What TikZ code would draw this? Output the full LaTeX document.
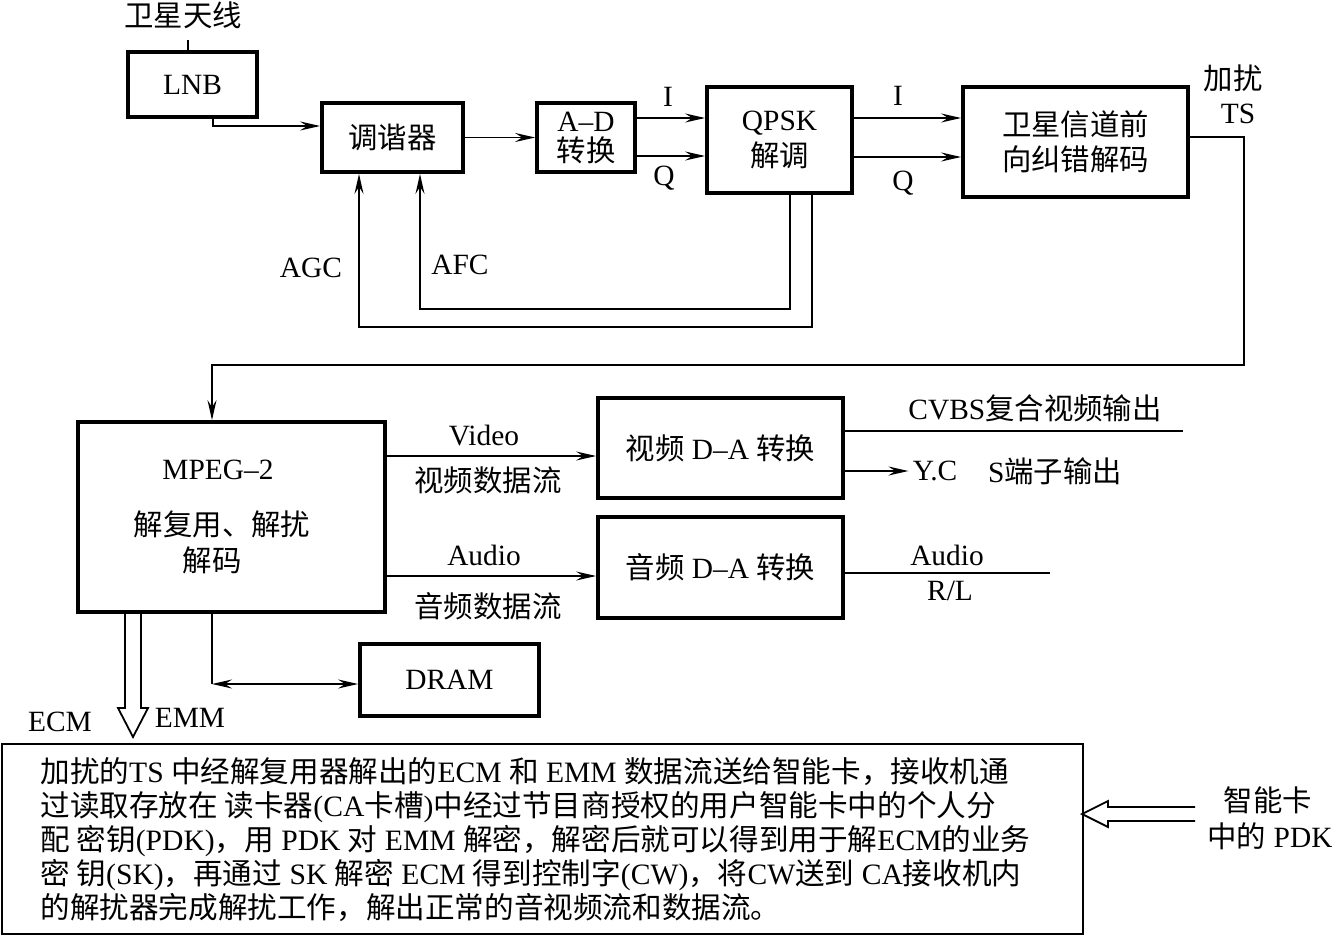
\documentclass[tikz,border=0pt]{standalone}
\usepackage{fontspec}
\setmainfont{Liberation Serif}
\newfontfamily\cjk{Noto Sans CJK SC}
\usetikzlibrary{arrows.meta}
\newcommand\zh[1]{{\cjk #1}}
\begin{document}
\begin{tikzpicture}[x=0.5pt,y=-0.5pt,
  font=\fontsize{14.7}{17}\selectfont,
  box/.style={draw,line width=1.9pt,inner sep=0pt},
  conn/.style={line width=0.8pt},
  arr/.style={conn,-{Stealth[length=10pt,width=4.5pt,inset=3.5pt]}},
  darr/.style={conn,{Stealth[length=10pt,width=4.5pt,inset=3.5pt]}-{Stealth[length=10pt,width=4.5pt,inset=3.5pt]}},
  lbl/.style={inner sep=1pt},
  hollow/.style={line width=0.9pt,line join=miter}]
\useasboundingbox (0,0) rectangle (1332,936);

% boxes
\node[box,minimum width=64.5pt,minimum height=32.5pt] (lnb) at (192.5,84.5) {LNB};
\node[box,minimum width=70.5pt,minimum height=34.5pt] (tuner) at (392.5,137.5) {\zh{调谐器}};
\node[box,minimum width=49pt,minimum height=34.5pt,align=center,font=\fontsize{14.7}{15}\selectfont] (ad) at (586,137.5) {A--D\\\zh{转换}};
\node[box,minimum width=72.5pt,minimum height=53pt,align=center,font=\fontsize{14.7}{18}\selectfont] (qpsk) at (779.5,140) {QPSK\\\zh{解调}};
\node[box,minimum width=112.5pt,minimum height=55pt,align=center,font=\fontsize{14.7}{17.5}\selectfont] (fec) at (1075.5,142) {\zh{卫星信道前}\\\zh{向纠错解码}};
\node[box,minimum width=153.5pt,minimum height=95pt] (mpeg) at (231.5,517) {};
\node[lbl] (mpegt1) at (218,470) {MPEG--2};
\node[lbl] (mpegt2) at (222,524) {\zh{解复用、解扰}};
\node[lbl] (mpegt3) at (212,560) {\zh{解码}};
\node[box,minimum width=122.5pt,minimum height=50pt] (vda) at (720.5,448) {\zh{视频} D--A \zh{转换}};
\node[box,minimum width=122.5pt,minimum height=50.5pt] (ada) at (720.5,567.5) {\zh{音频} D--A \zh{转换}};
\node[box,minimum width=89.5pt,minimum height=36pt] (dram) at (449.5,680) {DRAM};
\node[draw,line width=1pt,minimum width=540.5pt,minimum height=95pt,inner sep=0pt] (info) at (542.5,839) {};
\node[anchor=north west,align=left,font=\fontsize{14.8}{17}\selectfont,inner sep=0pt] (para) at (40,757) {%
\zh{加扰的}TS \zh{中经解复用器解出的}ECM \zh{和} EMM \zh{数据流送给智能卡，接收机通}\\
\zh{过读取存放在 读卡器}(CA\zh{卡槽})\zh{中经过节目商授权的用户智能卡中的个人分}\\
\zh{配 密钥}(PDK)\zh{，用} PDK \zh{对} EMM \zh{解密，解密后就可以得到用于解}ECM\zh{的业务}\\
\zh{密 钥}(SK)\zh{，再通过} SK \zh{解密} ECM \zh{得到控制字}(CW)\zh{，将}CW\zh{送到} CA\zh{接收机内}\\
\zh{的解扰器完成解扰工作，解出正常的音视频流和数据流。}};

% labels
\node[lbl] (antl) at (183,15) {\zh{卫星天线}};
\node[lbl] (li1) at (668,97) {I};
\node[lbl] (lq1) at (664,178) {Q};
\node[lbl] (li2) at (898,96) {I};
\node[lbl] (lq2) at (903,183) {Q};
\node[lbl] (lagc) at (311,268) {AGC};
\node[lbl] (lafc) at (460,265) {AFC};
\node[lbl] (ljr) at (1233,78) {\zh{加扰}};
\node[lbl] (lts) at (1238,114) {TS};
\node[lbl] (lvid) at (484,436) {Video};
\node[lbl] (lvids) at (488,480) {\zh{视频数据流}};
\node[lbl] (laud) at (484,555) {Audio};
\node[lbl] (lauds) at (488,606) {\zh{音频数据流}};
\node[lbl] (lcvbs) at (1035,408) {CVBS\zh{复合视频输出}};
\node[lbl,inner sep=2pt] (lyc) at (935,471) {Y.C};
\node[lbl] (lsout) at (1055,471) {S\zh{端子输出}};
\node[lbl] (laud2) at (947,555) {Audio};
\node[lbl] (lrl) at (950,591) {R/L};
\node[lbl] (lecm) at (60,722) {ECM};
\node[lbl] (lemm) at (190,718) {EMM};
\node[lbl] (lpdk1) at (1268,800) {\zh{智能卡}};
\node[lbl] (lpdk2) at (1270,836) {\zh{中的} PDK};

% coordinates
\coordinate (ant) at (188,40);
\coordinate (tsc) at (1244,365);
\coordinate (afc) at (420,309);
\coordinate (agc) at (359,327);
\coordinate (cvbsend) at (1183,431);
\coordinate (audend) at (1050,573);
\coordinate (dc) at (212,684);

% connectors
\draw[conn] (ant) -- (ant |- lnb.north);
\draw[arr] ([xshift=10.25pt]lnb.south) |- ([yshift=5.75pt]tuner.west);
\draw[arr] (tuner.east) -- (ad.west);
\draw[arr] ([yshift=9.75pt]ad.east) -- ([yshift=9.75pt]ad.east -| qpsk.west);
\draw[arr] ([yshift=-9.25pt]ad.east) -- ([yshift=-9.25pt]ad.east -| qpsk.west);
\draw[arr] ([yshift=11pt]qpsk.east) -- ([yshift=11pt]qpsk.east -| fec.west);
\draw[arr] ([yshift=-8.5pt]qpsk.east) -- ([yshift=-8.5pt]qpsk.east -| fec.west);
\draw[arr] ([yshift=2.5pt]fec.east) -| (tsc) -| ([xshift=-9.75pt]mpeg.north);
\draw[arr] ([xshift=5.25pt]qpsk.south) |- (afc) -- (afc |- tuner.south);
\draw[arr] ([xshift=16.25pt]qpsk.south) |- (agc) -- (agc |- tuner.south);
\draw[arr] ([yshift=30.5pt]mpeg.east) -- ([yshift=30.5pt]mpeg.east -| vda.west);
\draw[arr] ([yshift=-29.5pt]mpeg.east) -- ([yshift=-29.5pt]mpeg.east -| ada.west);
\draw[conn] ([yshift=8.5pt]vda.east) -- (cvbsend);
\draw[arr] ([yshift=-11.5pt]vda.east) -- (lyc.west);
\draw[conn] ([yshift=-2.75pt]ada.east) -- (audend);
\draw[conn] ([xshift=-9.75pt]mpeg.south) -- (dc);
\draw[darr] (dc) -- (dc -| dram.west);

% hollow arrows
\draw[hollow] (125,612) -- (125,708) -- (118,708) -- (133,737) -- (148,708) -- (141,708) -- (141,612);
\draw[hollow] (1195,807) -- (1108,807) -- (1108,801) -- (1082,814) -- (1108,827) -- (1108,821) -- (1195,821);
\end{tikzpicture}
\end{document}
